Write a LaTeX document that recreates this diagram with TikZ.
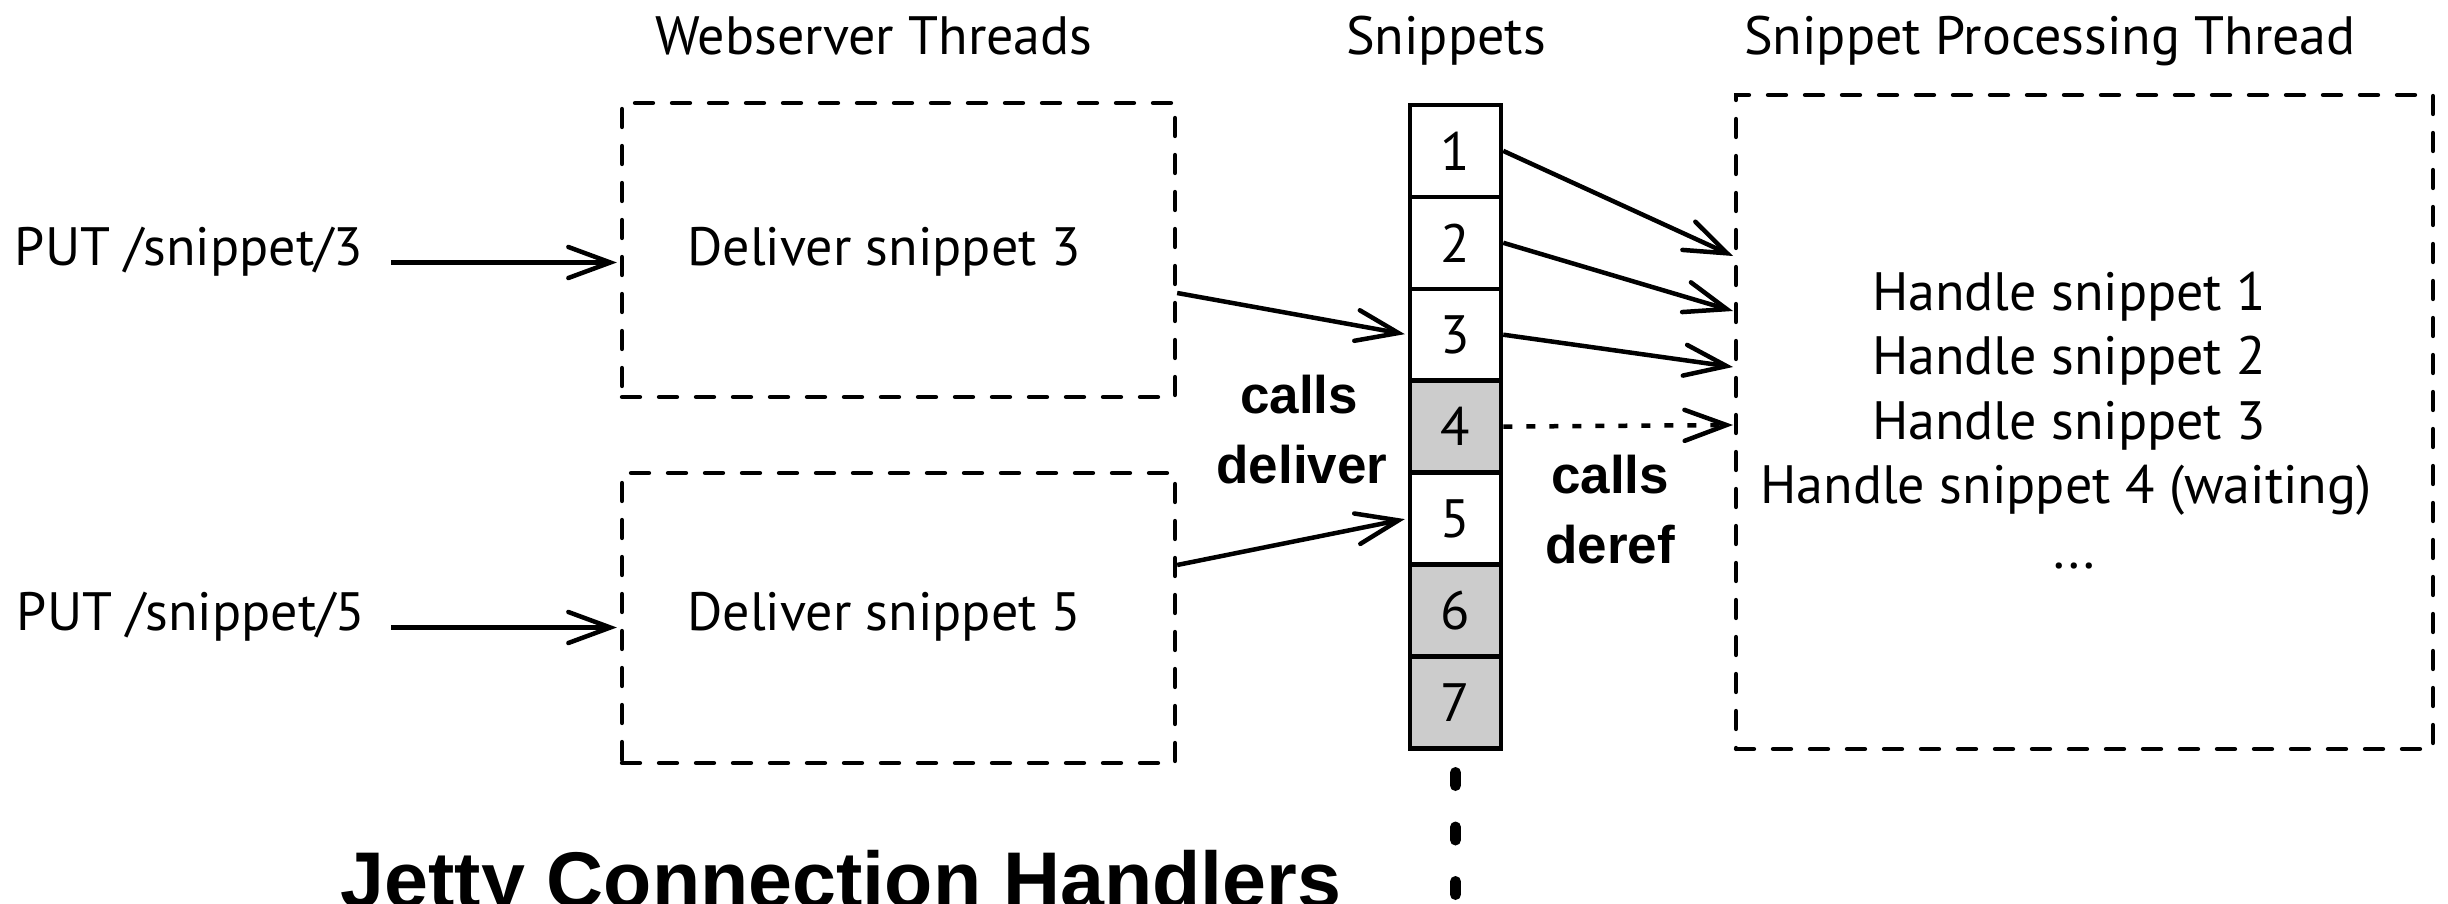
\documentclass[tikz,border=0pt]{standalone}
\usepackage{fontspec}
\setmainfont{PT Sans}
\newfontfamily\hbfont{Liberation Sans}
\usetikzlibrary{arrows.meta,calc}
\begin{document}
\begin{tikzpicture}[x=1pt,y=-1pt,
  txt/.style={inner sep=0pt, font=\fontsize{54}{60}\selectfont},
  bld/.style={inner sep=0pt, font=\hbfont\bfseries\fontsize{53}{60}\selectfont},
  dbox/.style={draw, line cap=round, dash pattern=on 18pt off 19pt, line width=4.3pt, inner sep=0pt},
  cell/.style={draw, line width=4.5pt, minimum width=91pt, minimum height=91.9pt, inner sep=0pt, font=\fontsize{54}{60}\selectfont},
  gcell/.style={cell, fill=black!20},
  arr/.style={-{Straight Barb[length=42pt,width=31pt,line cap=round]}, line width=4.5pt},
]
\useasboundingbox (0,0) rectangle (2448,904);

% titles
\node[txt, anchor=base] (tw) at (874,55) {Webserver Threads};
\node[txt, anchor=base] (ts) at (1446,55) {Snippets};
\node[txt, anchor=base] (tp) at (2050,55) {Snippet Processing Thread};

% dashed boxes
\node[dbox, minimum width=553pt, minimum height=294pt] (b1) at (898.5,250) {};
\node[dbox, minimum width=553pt, minimum height=290pt] (b2) at (898.5,618) {};
\node[dbox, minimum width=697pt, minimum height=654pt] (rb) at (2084.5,422) {};

% box texts
\node[txt, anchor=base] (d3) at (884,265) {Deliver snippet 3};
\node[txt, anchor=base] (d5) at (884,630) {Deliver snippet 5};
\node[txt, anchor=base] (p3) at (189,265) {PUT /snippet/3};
\node[txt, anchor=base] (p5) at (191,630) {PUT /snippet/5};

\draw[arr, shorten <=28pt, shorten >=3pt] (p3.mid east) -- (p3.mid east -| b1.west);
\draw[arr, shorten <=26pt, shorten >=3pt] (p5.mid east) -- (p5.mid east -| b2.west);

% snippet column
\node[cell]  (r1) at (1455.5,150.9) {1};
\node[cell]  (r2) at (1455.5,242.8) {2};
\node[cell]  (r3) at (1455.5,334.7) {3};
\node[gcell] (r4) at (1455.5,426.6) {4};
\node[cell]  (r5) at (1455.5,518.5) {5};
\node[gcell] (r6) at (1455.5,610.4) {6};
\node[gcell] (r7) at (1455.5,702.3) {7};

\draw[line width=11pt, line cap=round, dash pattern=on 13pt off 41.5pt]
  ($(r7.south)+(0,22)$) -- ++(0,160);

% arrow targets on the processing box
\coordinate (t1) at (1733,256);
\coordinate (t2) at (1733,311);
\coordinate (t3) at (1733,367);
\coordinate (t4) at (1733,425);

\draw[arr] (r1.east) -- (t1);
\draw[arr] (r2.east) -- (t2);
\draw[arr] (r3.east) -- (t3);
\draw[arr, dash pattern=on 9pt off 14pt] (r4.east) -- (t4);

\draw[arr, shorten >=3pt] ($(b1.east)+(0,43)$) -- (r3.west);
\draw[arr, shorten >=3pt] ($(b2.east)+(0,-53)$) -- (r5.west);

% bold labels
\node[bld, anchor=base] (cd1) at (1299,413) {calls};
\node[bld, anchor=base] (cd2) at (1302,483) {deliver};
\node[bld, anchor=base] (cr1) at (1610,493) {calls};
\node[bld, anchor=base] (cr2) at (1610,563) {deref};

% processing texts
\node[txt, anchor=base] (h1) at (2069,310) {Handle snippet 1};
\node[txt, anchor=base] (h2) at (2069,374.5) {Handle snippet 2};
\node[txt, anchor=base] (h3) at (2069,439) {Handle snippet 3};
\node[txt, anchor=base] (h4) at (2066,503.5) {Handle snippet 4 (waiting)};
\node[txt, anchor=base] (h5) at (2074,568) {...};

% caption
\node[inner sep=0pt, font=\hbfont\bfseries\fontsize{79}{90}\selectfont, anchor=base] (jt) at (841,907) {Jetty Connection Handlers};
\end{tikzpicture}
\end{document}
